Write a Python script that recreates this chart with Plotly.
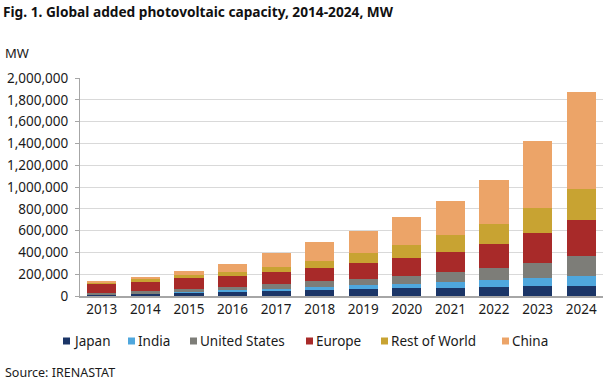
import plotly.graph_objects as go

years = ["2013", "2014", "2015", "2016", "2017", "2018", "2019", "2020", "2021", "2022", "2023", "2024"]
japan = [13600, 23300, 34200, 42000, 49500, 56200, 63200, 71100, 77000, 83000, 89000, 92000]
india = [2600, 3400, 5400, 9600, 17900, 27400, 35100, 39000, 49700, 63100, 73100, 95000]
united_states = [12000, 18300, 25000, 30000, 43000, 52000, 62000, 76000, 92000, 110000, 138000, 178000]
europe = [82000, 88000, 97000, 106000, 114000, 121000, 142000, 162000, 186000, 224000, 282000, 336000]
rest_of_world = [13000, 20000, 29000, 34000, 40000, 62000, 88000, 120000, 157000, 184000, 227000, 280000]
china = [15000, 25000, 41000, 75000, 131000, 177000, 204000, 258000, 306000, 398000, 609000, 888000]

series_names = ["Japan", "India", "United States", "Europe", "Rest of World", "China"]
series_values = [japan, india, united_states, europe, rest_of_world, china]
series_colors = ["#1b3567", "#4fa7dd", "#7d7d78", "#a82a29", "#c8a332", "#eca468"]

# legend layout (pixel positions of the swatches, left edge)
legend_swatch_px = [63, 128, 190, 306, 381, 502]
LEGEND_Y_PX = 341

FONT = "Noto Sans"
W, H = 605, 383
ML, MR, MT, MB = 80, 2, 78, 87
PW, PH = W - ML - MR, H - MT - MB


def px_x(x):
    return (x - ML) / PW


def px_y(y):
    return (H - MB - y) / PH


fig = go.Figure()
for name, vals, color in zip(series_names, series_values, series_colors):
    fig.add_trace(go.Bar(x=years, y=vals, name=name,
                         marker=dict(color=color, line=dict(width=0))))

shapes = []
annotations = []
for name, color, sx in zip(series_names, series_colors, legend_swatch_px):
    shapes.append(dict(type="rect", xref="paper", yref="paper",
                       x0=px_x(sx), x1=px_x(sx + 7),
                       y0=px_y(LEGEND_Y_PX + 3.5), y1=px_y(LEGEND_Y_PX - 3.5),
                       fillcolor=color, line=dict(width=0), layer="above"))
    annotations.append(dict(text=name, xref="paper", yref="paper",
                            x=px_x(sx + 8), y=px_y(LEGEND_Y_PX),
                            xanchor="left", yanchor="middle", showarrow=False,
                            font=dict(size=13.5, color="#1a1a1a")))

annotations.append(dict(text="MW", xref="paper", yref="paper", x=px_x(3), y=px_y(53),
                        xanchor="left", yanchor="middle", showarrow=False,
                        font=dict(size=13)))
annotations.append(dict(text="Source: IRENASTAT", xref="paper", yref="paper",
                        x=px_x(3), y=px_y(372),
                        xanchor="left", yanchor="middle", showarrow=False,
                        font=dict(size=12.5)))

fig.update_layout(
    width=W, height=H,
    barmode="stack", bargap=0.33,
    paper_bgcolor="white", plot_bgcolor="white",
    margin=dict(l=ML, r=MR, t=MT, b=MB),
    font=dict(family=FONT, size=13, color="#1a1a1a"),
    title=dict(text="<b>Fig. 1. Global added photovoltaic capacity, 2014-2024, MW</b>",
               x=3 / W, xref="container", xanchor="left",
               y=1 - 12 / H, yref="container", yanchor="middle",
               font=dict(family=FONT, size=13.7, color="#111")),
    showlegend=False,
    xaxis=dict(showgrid=False, showline=True, linecolor="#a6a6a6", linewidth=2,
               ticks="", tickfont=dict(size=13.5)),
    yaxis=dict(range=[0, 2000000], dtick=200000, tickformat=",d",
               showgrid=True, gridcolor="#d9d9d9", gridwidth=1,
               showline=True, linecolor="#a6a6a6", linewidth=1,
               ticks="outside", ticklen=4, tickcolor="#a6a6a6",
               ticklabelstandoff=4,
               tickfont=dict(size=13.5), zeroline=False),
    shapes=shapes,
    annotations=annotations,
)

fig.write_html("out.html", config={"displayModeBar": False},
               post_script="document.body.style.margin='0';")
